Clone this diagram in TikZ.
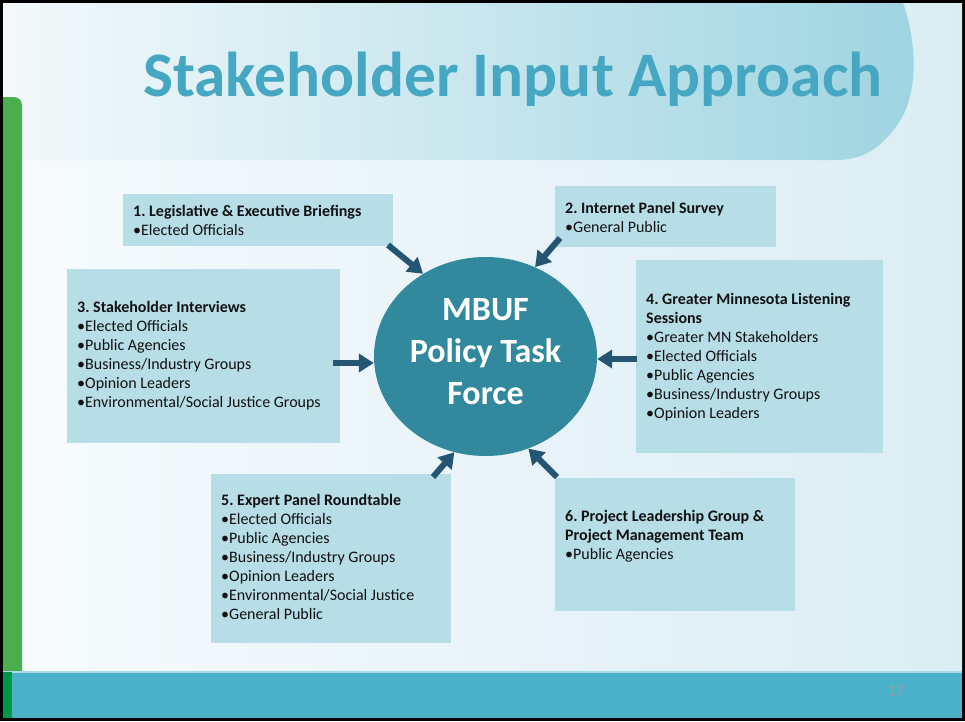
\documentclass[tikz,border=0pt]{standalone}
\usepackage{fontspec}
\setmainfont{Carlito}
\usetikzlibrary{shapes.geometric,arrows.meta,calc}
\frenchspacing

\definecolor{framec}{HTML}{000000}
\definecolor{bgleft}{HTML}{F7FBFD}
\definecolor{bgright}{HTML}{DBEDF4}
\definecolor{banleft}{HTML}{F4F9FB}
\definecolor{banmid}{HTML}{C9E6EE}
\definecolor{banright}{HTML}{9ED4E1}
\definecolor{titlec}{HTML}{45A7C1}
\definecolor{greenbar}{HTML}{4AAE4E}
\definecolor{darkgreen}{HTML}{009648}
\definecolor{bandc}{HTML}{4AB2C8}
\definecolor{bandline}{HTML}{A9DBE5}
\definecolor{pagenum}{HTML}{86A3AA}
\definecolor{boxc}{HTML}{B7DDE7}
\definecolor{hubc}{HTML}{32889C}
\definecolor{arrowc}{HTML}{245673}
\definecolor{textc}{HTML}{111111}

\tikzset{
  infobox/.style={fill=boxc, draw=none, inner sep=0pt, anchor=north west},
  boxtext/.style={anchor=base west, inner sep=0pt, text=textc,
    font=\fontsize{16}{19}\selectfont},
  inarrow/.style={draw=arrowc, line width=6pt,
    -{Triangle[length=15pt,width=18pt]}},
}

\begin{document}
\begin{tikzpicture}[x=1pt,y=-1pt]
\useasboundingbox (0,0) rectangle (965,721);

% slide frame and background
\fill[framec] (0,0) rectangle (965,721);
\shade[left color=bgleft, right color=bgright] (3,3) rectangle (962,672);

% title banner
\shade[left color=banleft, middle color=banmid, right color=banright]
  (3,3) -- (903,3) .. controls (915,35) and (922,95) .. (895,128)
  .. controls (878,150) and (862,160) .. (835,160) -- (3,160) -- cycle;

% green side bar
\fill[greenbar] (3,700) -- (3,97) -- (14,97)
  .. controls (18.4,97) and (22,100.6) .. (22,105) -- (22,700) -- cycle;

% footer band
\fill[bandc] (3,672) rectangle (962,718);
\fill[bandline] (3,671) rectangle (962,673);
\fill[darkgreen] (3,672) rectangle (12,718);
\node[anchor=base, inner sep=0pt, text=pagenum,
  font=\fontsize{17}{17}\selectfont] (pg) at (896,696) {17};

% title
\node[anchor=base west, inner sep=0pt, text=titlec,
  font=\bfseries\fontsize{63.4}{70}\selectfont] (title) at (143,96)
  {Stakeholder Input Approach};

% input boxes
\node[infobox, minimum width=270pt, minimum height=52pt] (b1) at (123,194) {};
\node[infobox, minimum width=221pt, minimum height=61pt] (b2) at (555,186) {};
\node[infobox, minimum width=273pt, minimum height=174pt] (b3) at (67,269) {};
\node[infobox, minimum width=247pt, minimum height=193pt] (b4) at (636,260) {};
\node[infobox, minimum width=240pt, minimum height=169pt] (b5) at (211,474) {};
\node[infobox, minimum width=240pt, minimum height=133pt] (b6) at (555,478) {};

% box texts
\node[boxtext] (t1) at (133,216) {\begin{tabular}[t]{@{}l@{}}
  \textbf{1. Legislative \& Executive Briefings}\\
  •Elected Officials\end{tabular}};
\node[boxtext] (t2) at (565,213) {\begin{tabular}[t]{@{}l@{}}
  \textbf{2. Internet Panel Survey}\\
  •General Public\end{tabular}};
\node[boxtext] (t3) at (77,312) {\begin{tabular}[t]{@{}l@{}}
  \textbf{3. Stakeholder Interviews}\\
  •Elected Officials\\
  •Public Agencies\\
  •Business/Industry Groups\\
  •Opinion Leaders\\
  •Environmental/Social Justice Groups\end{tabular}};
\node[boxtext] (t4) at (646,304) {\begin{tabular}[t]{@{}l@{}}
  \textbf{4. Greater Minnesota Listening}\\
  \textbf{Sessions}\\
  •Greater MN Stakeholders\\
  •Elected Officials\\
  •Public Agencies\\
  •Business/Industry Groups\\
  •Opinion Leaders\end{tabular}};
\node[boxtext] (t5) at (221,505) {\begin{tabular}[t]{@{}l@{}}
  \textbf{5. Expert Panel Roundtable}\\
  •Elected Officials\\
  •Public Agencies\\
  •Business/Industry Groups\\
  •Opinion Leaders\\
  •Environmental/Social Justice\\
  •General Public\end{tabular}};
\node[boxtext] (t6) at (565,521) {\begin{tabular}[t]{@{}l@{}}
  \textbf{6. Project Leadership Group \&}\\
  \textbf{Project Management Team}\\
  •Public Agencies\end{tabular}};

% central hub
\node[ellipse, fill=hubc, draw=none, inner sep=0pt,
  minimum width=223pt, minimum height=199pt] (mbuf) at (485.5,356.5) {};
\node[anchor=base, inner sep=0pt, text=white,
  font=\bfseries\fontsize{34}{42}\selectfont] (hubtext) at (485.5,320)
  {\begin{tabular}[t]{@{}c@{}}MBUF\\Policy Task\\Force\end{tabular}};

% arrows into the hub
\coordinate (s1) at (388,245);
\coordinate (s2) at (560,238);
\coordinate (s3) at (333,363);
\coordinate (s4) at (637,359);
\coordinate (s5) at (433,477);
\coordinate (s6) at (557,477);
\draw[inarrow] (s1) -- (mbuf.127);
\draw[inarrow] (s2) -- (mbuf.61);
\draw[inarrow] (s3) -- (s3 -| mbuf.west);
\draw[inarrow] (s4) -- (s4 -| mbuf.east);
\draw[inarrow] (s5) -- (mbuf.252);
\draw[inarrow] (s6) -- (mbuf.295);
\end{tikzpicture}
\end{document}
